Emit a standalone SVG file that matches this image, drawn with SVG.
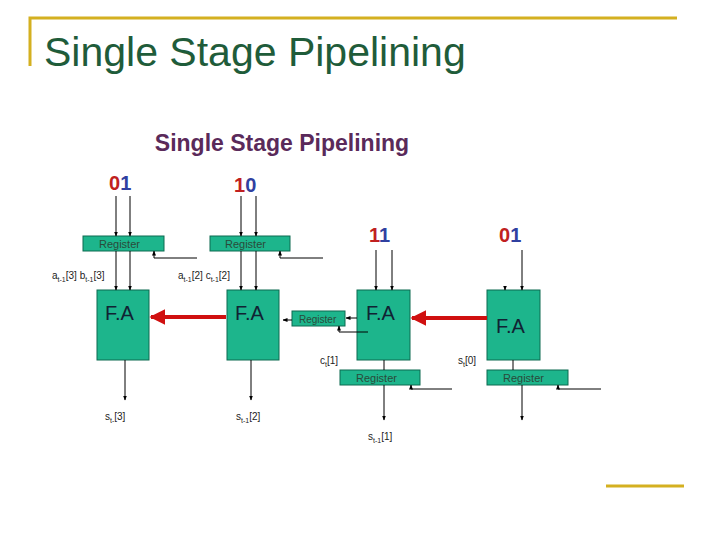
<svg xmlns="http://www.w3.org/2000/svg" width="720" height="540" viewBox="0 0 720 540">
<defs>
<marker id="ah" viewBox="0 0 10 10" refX="9" refY="5" markerWidth="5" markerHeight="5" orient="auto"><path d="M0,1 L10,5 L0,9 z" fill="#000"/></marker>
<marker id="rh" viewBox="0 0 10 10" refX="9" refY="5" markerWidth="4" markerHeight="4" orient="auto"><path d="M0,0 L10,5 L0,10 z" fill="#d01010"/></marker>
</defs>
<style>
.fa{fill:#1db58c;stroke:#0d6b50;stroke-width:1}
.rg{fill:#1db58c;stroke:#0d6b50;stroke-width:1}
.rt{font-family:"Liberation Sans",sans-serif;font-size:11px;fill:#2a4a3a}
.ft{font-family:"Liberation Sans",sans-serif;font-size:20px;fill:#123}
.lb{font-family:"Liberation Sans",sans-serif;font-size:10px;fill:#222}
.sb{font-size:7px}
.w{stroke:#000;stroke-width:1;fill:none}
.red{stroke:#d01010;stroke-width:4;fill:none}
.num{font-family:"Liberation Sans",sans-serif;font-size:20px;font-weight:bold}
.r{fill:#c02020}.b{fill:#3040a0}
</style>
<rect width="720" height="540" fill="#fff"/>
<path d="M30,66 V18 H677" stroke="#d4b020" stroke-width="3" fill="none"/>
<line x1="606" y1="486" x2="684" y2="486" stroke="#d4b020" stroke-width="3"/>
<text x="44" y="66" font-family="Liberation Sans,sans-serif" font-size="41" fill="#1f5c3a">Single Stage Pipelining</text>
<text x="282" y="151" text-anchor="middle" font-family="Liberation Sans,sans-serif" font-size="23" font-weight="bold" fill="#5a2a5a">Single Stage Pipelining</text>

<g id="stage1">
<text x="109" y="190" class="num"><tspan class="r">0</tspan><tspan class="b">1</tspan></text>
<rect class="rg" x="83" y="236" width="81" height="15"/><text class="rt" x="99" y="248">Register</text>
<text class="lb" x="52" y="279">a<tspan class="sb" dy="3">t-1</tspan><tspan dy="-3">[3] b</tspan><tspan class="sb" dy="3">t-1</tspan><tspan dy="-3">[3]</tspan></text>
<rect class="fa" x="97" y="290" width="52" height="70"/><text class="ft" x="105" y="320">F.A</text>
<text class="lb" x="105" y="420">s<tspan class="sb" dy="3">t-</tspan><tspan dy="-3">[3]</tspan></text>
</g>
<g id="stage2">
<text x="234" y="192" class="num"><tspan class="r">1</tspan><tspan class="b">0</tspan></text>
<rect class="rg" x="210" y="236" width="80" height="15"/><text class="rt" x="225" y="248">Register</text>
<text class="lb" x="178" y="279">a<tspan class="sb" dy="3">t-1</tspan><tspan dy="-3">[2] c</tspan><tspan class="sb" dy="3">t-1</tspan><tspan dy="-3">[2]</tspan></text>
<rect class="fa" x="227" y="290" width="52" height="70"/><text class="ft" x="235" y="320">F.A</text>
<text class="lb" x="236" y="420">s<tspan class="sb" dy="3">t-1</tspan><tspan dy="-3">[2]</tspan></text>
</g>
<g id="stage3">
<text x="369" y="242" class="num"><tspan class="r">1</tspan><tspan class="b">1</tspan></text>
<rect class="fa" x="357" y="290" width="53" height="70"/><text class="ft" x="366" y="320">F.A</text>
<rect class="rg" x="292" y="311" width="53" height="15"/><text class="rt" x="299" y="323" style="font-size:10px">Register</text>
<text class="lb" x="320" y="364">c<tspan class="sb" dy="3">t</tspan><tspan dy="-3">[1]</tspan></text>
<rect class="rg" x="340" y="370" width="80" height="15"/><text class="rt" x="356" y="382">Register</text>
<text class="lb" x="368" y="440">s<tspan class="sb" dy="3">t-1</tspan><tspan dy="-3">[1]</tspan></text>
</g>
<g id="stage4">
<text x="499" y="242" class="num"><tspan class="r">0</tspan><tspan class="b">1</tspan></text>
<rect class="fa" x="487" y="290" width="53" height="70"/><text class="ft" x="496" y="333">F.A</text>
<text class="lb" x="458" y="364">s<tspan class="sb" dy="3">t</tspan><tspan dy="-3">[0]</tspan></text>
<rect class="rg" x="487" y="370" width="81" height="15"/><text class="rt" x="503" y="382">Register</text>
</g>

<g id="connectors">
<line class="w" x1="116" y1="196" x2="116" y2="236" marker-end="url(#ah)"/>
<line class="w" x1="130" y1="196" x2="130" y2="236" marker-end="url(#ah)"/>
<line class="w" x1="116" y1="251" x2="116" y2="290" marker-end="url(#ah)"/>
<line class="w" x1="130" y1="251" x2="130" y2="290" marker-end="url(#ah)"/>
<polyline class="w" points="197,258 154,258 154,251" marker-end="url(#ah)"/>
<line class="w" x1="125" y1="360" x2="125" y2="400" marker-end="url(#ah)"/>

<line class="w" x1="241" y1="196" x2="241" y2="236" marker-end="url(#ah)"/>
<line class="w" x1="256" y1="196" x2="256" y2="236" marker-end="url(#ah)"/>
<line class="w" x1="241" y1="251" x2="241" y2="290" marker-end="url(#ah)"/>
<line class="w" x1="256" y1="251" x2="256" y2="290" marker-end="url(#ah)"/>
<polyline class="w" points="323,258 280,258 280,251" marker-end="url(#ah)"/>
<line class="w" x1="251" y1="360" x2="251" y2="400" marker-end="url(#ah)"/>
<line class="red" x1="226" y1="317" x2="151" y2="317" marker-end="url(#rh)"/>

<line class="w" x1="376" y1="250" x2="376" y2="290" marker-end="url(#ah)"/>
<line class="w" x1="392" y1="250" x2="392" y2="290" marker-end="url(#ah)"/>
<line class="w" x1="357" y1="318" x2="346" y2="318" marker-end="url(#ah)"/>
<line class="w" x1="292" y1="320" x2="283" y2="320" marker-end="url(#ah)"/>
<polyline class="w" points="368,332 339,332 339,326" marker-end="url(#ah)"/>
<line class="w" x1="384" y1="360" x2="384" y2="370"/>
<line class="w" x1="384" y1="385" x2="384" y2="420" marker-end="url(#ah)"/>
<polyline class="w" points="452,389 411,389 411,385" marker-end="url(#ah)"/>

<line class="w" x1="522" y1="250" x2="522" y2="290" marker-end="url(#ah)"/>
<line class="w" x1="505" y1="286" x2="505" y2="290" marker-end="url(#ah)"/>
<line class="red" x1="487" y1="318" x2="412" y2="318" marker-end="url(#rh)"/>
<line class="w" x1="513" y1="360" x2="513" y2="370"/>
<line class="w" x1="522" y1="385" x2="522" y2="420" marker-end="url(#ah)"/>
<polyline class="w" points="601,389 558,389 558,385" marker-end="url(#ah)"/>
</g>
</svg>
